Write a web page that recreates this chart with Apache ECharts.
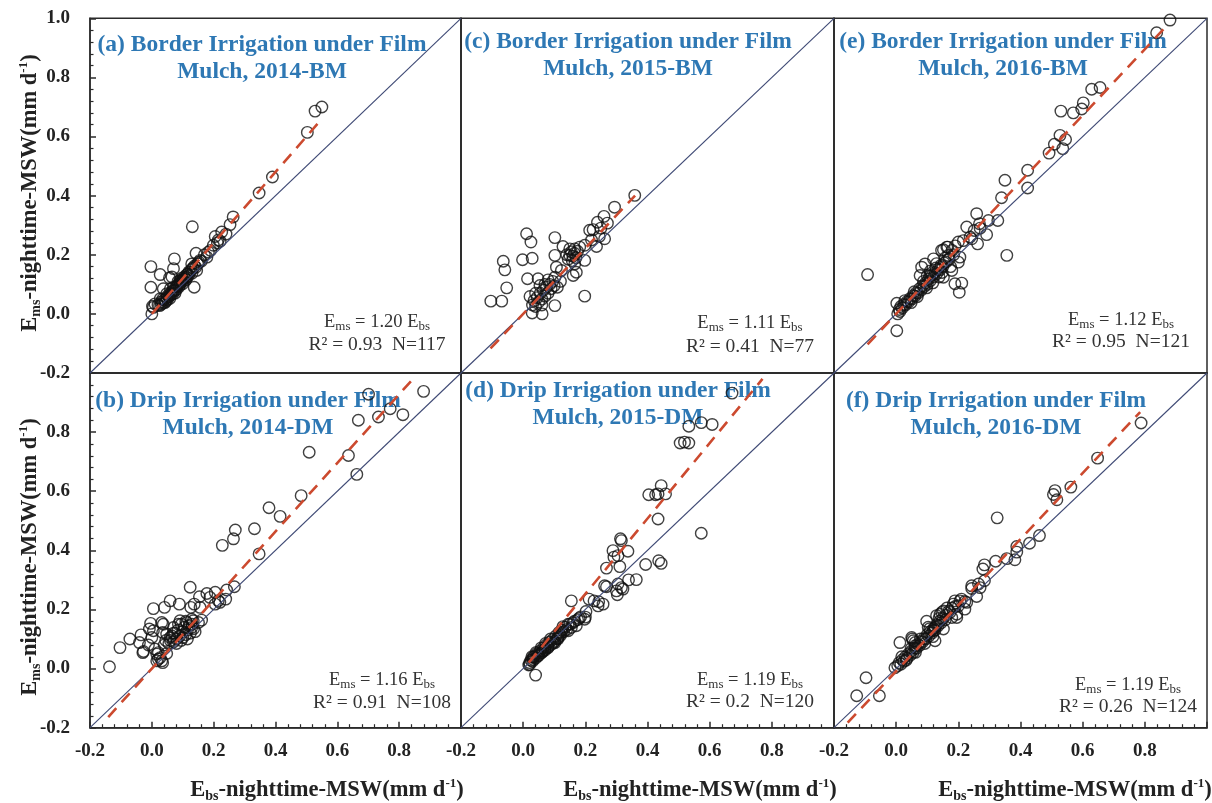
<!DOCTYPE html>
<html><head><meta charset="utf-8">
<script src="https://cdn.jsdelivr.net/npm/echarts@6/dist/echarts.min.js"></script>
<style>html,body{margin:0;padding:0;background:#fff}#c{width:1212px;height:803px}</style>
</head><body><div id="c"></div><script>
// ---------- DATA ----------
const axisTicks = [-0.2, 0.0, 0.2, 0.4, 0.6, 0.8, 1.0];
const panelLetters = ['(a)', '(c)', '(e)', '(b)', '(d)', '(f)'];
const panelTypes = ['Border', 'Border', 'Border', 'Drip', 'Drip', 'Drip'];
const panelYears = ['2014-BM', '2015-BM', '2016-BM', '2014-DM', '2015-DM', '2016-DM'];
const slopes = ['1.20', '1.11', '1.12', '1.16', '1.19', '1.19'];
const r2s = ['0.93', '0.41', '0.95', '0.91', '0.2', '0.26'];
const ns = ['117', '77', '121', '108', '120', '124'];

const pts2014BM = [[0.550,0.700],[0.528,0.686],[0.503,0.614],[0.390,0.463],[0.347,0.409],[0.263,0.328],[0.253,0.302],[0.131,0.295],[0.226,0.277],[0.205,0.262],[0.221,0.246],[0.199,0.232],[0.212,0.240],[0.183,0.209],[0.143,0.205],[0.178,0.192],[0.073,0.186],[0.156,0.181],[0.129,0.169],[0.070,0.153],[-0.003,0.160],[0.027,0.133],[0.057,0.122],[0.065,0.125],[0.145,0.147],[0.113,0.124],[0.091,0.113],[-0.003,0.090],[0.037,0.085],[0.137,0.090],[0.070,0.090],[0.048,0.068],[0.027,0.051],[0.010,0.034],[0.005,0.022],[0.000,0.000],[0.002,0.026],[0.190,0.215],[0.170,0.200],[0.160,0.178],[0.240,0.270],[0.215,0.250],
[0.020,0.030],[0.025,0.028],[0.030,0.040],[0.035,0.036],[0.040,0.047],[0.045,0.042],[0.048,0.055],[0.052,0.062],[0.055,0.058],[0.060,0.070],[0.062,0.064],[0.066,0.076],[0.070,0.080],[0.074,0.078],[0.078,0.090],[0.082,0.094],[0.085,0.100],[0.088,0.092],[0.092,0.105],[0.095,0.112],[0.098,0.108],[0.102,0.118],[0.105,0.125],[0.108,0.120],[0.112,0.132],[0.116,0.135],[0.120,0.142],[0.124,0.140],[0.128,0.150],[0.133,0.155],[0.138,0.162],[0.142,0.158],[0.148,0.170],[0.152,0.175],[0.035,0.050],[0.042,0.038],[0.058,0.052],[0.068,0.068],[0.080,0.083],[0.090,0.098],[0.100,0.102],[0.110,0.115],[0.118,0.128],[0.130,0.138],[0.030,0.032],[0.050,0.048],[0.075,0.070],[0.096,0.120],[0.060,0.085],[0.085,0.110]];

const pts2015BM = [[0.359,0.401],[0.294,0.361],[0.260,0.330],[0.271,0.307],[0.239,0.310],[0.225,0.285],[0.214,0.283],[0.262,0.254],[0.236,0.228],[0.011,0.271],[0.025,0.243],[0.102,0.258],[0.128,0.228],[0.150,0.220],[0.166,0.220],[0.182,0.226],[0.198,0.232],[-0.064,0.178],[-0.059,0.149],[-0.002,0.183],[0.029,0.188],[0.102,0.198],[0.150,0.198],[0.198,0.181],[0.171,0.141],[-0.053,0.088],[-0.104,0.043],[-0.069,0.043],[0.014,0.119],[0.048,0.119],[0.054,0.096],[0.198,0.060],[0.102,0.028],[0.061,0.000],[0.029,0.003],[0.022,0.059],[0.102,0.124],[0.123,0.147],[0.107,0.158],[0.166,0.169],[0.161,0.130],[0.250,0.290],[0.245,0.262],[0.220,0.250],
[0.140,0.200],[0.145,0.185],[0.155,0.210],[0.160,0.195],[0.165,0.205],[0.170,0.190],[0.175,0.212],[0.158,0.180],
[0.030,0.030],[0.035,0.045],[0.040,0.025],[0.045,0.055],[0.050,0.040],[0.055,0.070],[0.060,0.050],[0.065,0.080],[0.070,0.060],[0.075,0.090],[0.080,0.070],[0.085,0.100],[0.090,0.085],[0.095,0.110],[0.100,0.095],[0.070,0.100],[0.080,0.115],[0.040,0.070],[0.060,0.030],[0.110,0.090],[0.120,0.110]];

const pts2016BM = [[0.881,0.994],[0.838,0.951],[0.656,0.766],[0.629,0.760],[0.602,0.714],[0.597,0.693],[0.570,0.680],[0.530,0.686],[0.527,0.604],[0.545,0.590],[0.509,0.574],[0.536,0.559],[0.492,0.544],[0.423,0.486],[0.423,0.426],[0.350,0.452],[0.339,0.393],[0.259,0.339],[0.327,0.316],[0.297,0.316],[0.268,0.305],[0.227,0.294],[0.291,0.268],[0.251,0.282],[0.262,0.237],[0.243,0.254],[0.200,0.243],[0.356,0.198],[-0.092,0.133],[0.189,0.102],[0.211,0.104],[0.203,0.073],[0.166,0.226],[0.152,0.217],[0.120,0.186],[0.093,0.169],[0.082,0.158],[0.077,0.130],[0.200,0.175],[0.179,0.147],[0.002,0.036],[0.005,0.000],[0.002,-0.057],[0.238,0.260],[0.216,0.248],[0.205,0.192],[0.163,0.226],[0.146,0.215],[0.168,0.198],[0.152,0.124],[0.270,0.290],[0.180,0.215],[0.190,0.230],
[0.010,0.015],[0.015,0.025],[0.020,0.020],[0.025,0.032],[0.030,0.030],[0.035,0.042],[0.040,0.040],[0.045,0.052],[0.050,0.050],[0.055,0.062],[0.060,0.060],[0.065,0.072],[0.070,0.070],[0.075,0.085],[0.080,0.080],[0.085,0.095],[0.090,0.092],[0.095,0.105],[0.100,0.100],[0.105,0.118],[0.110,0.112],[0.115,0.130],[0.120,0.125],[0.125,0.140],[0.130,0.135],[0.135,0.150],[0.140,0.148],[0.145,0.165],[0.150,0.160],[0.155,0.172],[0.160,0.175],[0.012,0.008],[0.028,0.045],[0.048,0.038],[0.058,0.075],[0.068,0.058],[0.088,0.110],[0.098,0.088],[0.108,0.128],[0.118,0.105],[0.128,0.155],[0.138,0.125],[0.148,0.140],[0.158,0.190],[0.170,0.185],[0.130,0.170],[0.110,0.145],[0.100,0.130],[0.175,0.160],[0.185,0.200]];

const pts2014DM = [[0.879,0.938],[0.701,0.928],[0.771,0.879],[0.733,0.851],[0.812,0.859],[0.668,0.840],[0.509,0.732],[0.636,0.721],[0.663,0.657],[0.483,0.585],[0.379,0.544],[0.415,0.515],[0.332,0.473],[0.270,0.469],[0.264,0.439],[0.228,0.417],[0.347,0.388],[0.267,0.277],[0.242,0.266],[0.239,0.235],[0.124,0.275],[0.205,0.258],[0.178,0.254],[0.188,0.241],[0.215,0.230],[0.154,0.243],[0.156,0.207],[0.137,0.218],[0.126,0.207],[0.059,0.229],[0.041,0.207],[0.005,0.203],[0.089,0.218],[0.161,0.164],[0.129,0.167],[0.113,0.156],[0.129,0.139],[0.091,0.162],[0.086,0.150],[0.070,0.139],[0.037,0.150],[0.035,0.122],[0.048,0.117],[-0.004,0.153],[-0.008,0.134],[0.005,0.128],[-0.035,0.114],[-0.071,0.100],[-0.103,0.071],[-0.040,0.088],[-0.029,0.054],[-0.011,0.080],[0.000,0.105],[0.010,0.066],[0.016,0.049],[0.016,0.026],[0.027,0.037],[0.035,0.020],[0.048,0.051],[-0.137,0.006],[-0.027,0.058],[0.032,0.156],[0.059,0.105],[0.134,0.162],[0.151,0.156],[0.220,0.224],[0.205,0.218],[0.021,0.054],[0.021,0.032],[0.032,0.026],
[0.055,0.085],[0.060,0.095],[0.065,0.110],[0.070,0.090],[0.075,0.120],[0.080,0.100],[0.085,0.130],[0.090,0.110],[0.095,0.095],[0.100,0.125],[0.105,0.140],[0.110,0.115],[0.115,0.130],[0.120,0.145],[0.125,0.120],[0.130,0.150],[0.135,0.135],[0.140,0.125],[0.070,0.120],[0.080,0.085],[0.100,0.105],[0.115,0.100],[0.045,0.095],[0.040,0.080],[0.095,0.150],[0.110,0.160]];

const pts2015DM = [[0.672,0.932],[0.533,0.820],[0.573,0.832],[0.608,0.826],[0.505,0.763],[0.519,0.766],[0.533,0.763],[0.444,0.619],[0.404,0.588],[0.426,0.588],[0.434,0.591],[0.458,0.591],[0.434,0.506],[0.573,0.458],[0.313,0.439],[0.316,0.433],[0.289,0.399],[0.337,0.397],[0.305,0.382],[0.292,0.377],[0.311,0.345],[0.268,0.340],[0.394,0.352],[0.436,0.365],[0.444,0.356],[0.364,0.301],[0.339,0.300],[0.262,0.280],[0.268,0.277],[0.300,0.263],[0.321,0.269],[0.303,0.250],[0.305,0.286],[0.316,0.274],[0.155,0.229],[0.212,0.235],[0.228,0.229],[0.243,0.226],[0.257,0.218],[0.241,0.212],[0.202,0.193],[0.198,0.167],[0.200,0.174],[0.171,0.145],[0.155,0.139],[0.145,0.128],[0.123,0.122],[0.112,0.105],[0.096,0.086],[0.080,0.071],[0.064,0.060],[0.048,0.049],[0.032,0.038],[0.021,0.014],[0.040,-0.022],[0.018,0.012],[0.118,0.116],[0.112,0.100],[0.102,0.088],[0.080,0.077],[0.070,0.066],[0.059,0.054],[0.048,0.043],[0.032,0.031],[0.021,0.020],
[0.025,0.028],[0.030,0.025],[0.035,0.040],[0.040,0.035],[0.045,0.052],[0.050,0.045],[0.055,0.060],[0.060,0.055],[0.065,0.070],[0.070,0.062],[0.075,0.080],[0.080,0.072],[0.085,0.090],[0.090,0.082],[0.095,0.098],[0.100,0.092],[0.105,0.110],[0.110,0.102],[0.115,0.122],[0.120,0.112],[0.125,0.130],[0.130,0.125],[0.135,0.140],[0.140,0.132],[0.150,0.150],[0.160,0.155],[0.165,0.160],[0.175,0.165],[0.180,0.170],[0.185,0.175],[0.028,0.040],[0.042,0.055],[0.058,0.070],[0.072,0.085],[0.088,0.100],[0.128,0.142],[0.145,0.150]];

const pts2016DM = [[0.788,0.831],[0.648,0.712],[0.562,0.614],[0.511,0.602],[0.506,0.589],[0.517,0.571],[0.325,0.510],[0.461,0.450],[0.429,0.424],[0.388,0.413],[0.388,0.394],[0.382,0.368],[0.356,0.372],[0.320,0.363],[0.284,0.351],[0.279,0.337],[0.284,0.297],[0.265,0.286],[0.243,0.271],[0.259,0.244],[0.221,0.227],[0.205,0.229],[0.184,0.218],[0.195,0.173],[0.147,0.190],[0.130,0.179],[0.152,0.134],[0.125,0.139],[0.098,0.160],[0.012,0.088],[0.052,0.100],[0.061,0.088],[-0.004,0.003],[-0.097,-0.031],[-0.127,-0.092],[-0.054,-0.092],[0.050,0.105],[0.055,0.094],[0.061,0.077],[0.103,0.140],[0.120,0.128],[0.125,0.094],[0.141,0.184],[0.152,0.195],[0.173,0.190],[0.179,0.173],[0.195,0.184],[0.189,0.229],[0.200,0.212],[0.227,0.224],[0.221,0.201],[0.243,0.280],[0.270,0.274],[0.163,0.205],[0.210,0.235],
[0.005,0.010],[0.010,0.020],[0.015,0.015],[0.020,0.030],[0.025,0.025],[0.030,0.040],[0.035,0.035],[0.040,0.050],[0.045,0.045],[0.050,0.060],[0.055,0.055],[0.060,0.070],[0.065,0.068],[0.070,0.082],[0.075,0.078],[0.080,0.092],[0.085,0.090],[0.090,0.102],[0.095,0.100],[0.100,0.115],[0.105,0.110],[0.110,0.125],[0.115,0.120],[0.120,0.135],[0.125,0.130],[0.130,0.148],[0.135,0.145],[0.140,0.160],[0.145,0.155],[0.150,0.170],[0.160,0.180],[0.170,0.195],[0.018,0.040],[0.032,0.028],[0.048,0.068],[0.062,0.055],[0.078,0.100],[0.092,0.085],[0.108,0.135],[0.118,0.108],[0.138,0.170],[0.158,0.165],[0.180,0.205],[0.190,0.210]];

// fitted regression lines (end points)
const fit2014BM = [[0.000, 0.000], [0.546, 0.655]];
const fit2015BM = [[-0.105, -0.117], [0.360, 0.400]];
const fit2016BM = [[-0.092, -0.103], [0.870, 0.974]];
const fit2014DM = [[-0.141, -0.164], [0.850, 0.986]];
const fit2015DM = [[0.018, 0.020], [0.770, 0.980]];
const fit2016DM = [[-0.156, -0.183], [0.785, 0.868]];
const oneToOne = [[-0.2, -0.2], [1.0, 1.0]];

const panelPts = [pts2014BM, pts2015BM, pts2016BM, pts2014DM, pts2015DM, pts2016DM];
const panelFits = [fit2014BM, fit2015BM, fit2016BM, fit2014DM, fit2015DM, fit2016DM];

// ---------- LAYOUT ----------
const colLeft = [90, 461, 834], colW = [371, 373, 373];
const rowTop = [18.3, 373], rowH = 354.7;
const titlePos = [[262, 58.5], [628, 55.5], [1003, 55.5], [248, 414], [618, 404.5], [996, 414]];
const annPos = [[377, 322, 345], [750, 323, 347], [1121, 320, 342], [382, 680, 703], [750, 680, 702], [1128, 685, 707]];
const xNamePos = [327, 700, 1075];
const yNamePos = [193, 557];

const SERIF = 'Liberation Serif';
const dark = '#2b2b2b';
const AMIN = axisTicks[0], AMAX = axisTicks[axisTicks.length - 1];

const grids = [], xAxes = [], yAxes = [], series = [], graphics = [];
const helperY = {}, helperX = {};
for (let i = 0; i < 6; i++) {
  if (Math.floor(i / 3) === 1) helperY[i] = 6 + Object.keys(helperY).length;
}
for (let i = 0; i < 6; i++) {
  if (i % 3 === 0) helperX[i] = 6 + Object.keys(helperX).length;
}

for (let i = 0; i < 6; i++) {
  const r = Math.floor(i / 3), c = i % 3;
  grids.push({ left: colLeft[c], top: rowTop[r], width: colW[c], height: rowH,
    show: true, borderColor: dark, borderWidth: 1.5 });
  const bottom = r === 1, left = c === 0;
  const xLine = bottom ? { show: true, onZero: true, onZeroAxisIndex: helperY[i], lineStyle: { color: dark, width: 1.5 } }
                       : { show: true, onZero: false, lineStyle: { color: dark, width: 1.5 } };
  const yLine = left ? { show: true, onZero: true, onZeroAxisIndex: helperX[i], lineStyle: { color: dark, width: 1.5 } }
                     : { show: true, onZero: false, lineStyle: { color: dark, width: 1.5 } };
  xAxes.push({ type: 'value', gridIndex: i, min: AMIN, max: AMAX, interval: 0.2,
    axisLine: xLine, splitLine: { show: true, lineStyle: { color: 'rgba(0,0,0,0)' } },
    axisTick: { show: bottom, inside: true, length: 6, lineStyle: { color: dark, width: 1.5 } },
    minorTick: { show: bottom, splitNumber: 5, length: 3.5, lineStyle: { color: dark, width: 1.2 } },
    axisLabel: { show: bottom, margin: 14,
      fontFamily: SERIF, fontWeight: 'bold', fontSize: 19, color: '#222',
      formatter: v => (v >= AMAX - 1e-6 ? '' : v.toFixed(1)) } });
  yAxes.push({ type: 'value', gridIndex: i, min: AMIN, max: AMAX, interval: 0.2,
    axisLine: yLine, splitLine: { show: true, lineStyle: { color: 'rgba(0,0,0,0)' } },
    axisTick: { show: left, inside: true, length: 6, lineStyle: { color: dark, width: 1.5 } },
    minorTick: { show: left, splitNumber: 5, length: 3.5, lineStyle: { color: dark, width: 1.2 } },
    axisLabel: { show: left, margin: 20,
      fontFamily: SERIF, fontWeight: 'bold', fontSize: 19, color: '#222',
      formatter: v => ((r === 1 && v >= AMAX - 1e-6) ? '' : v.toFixed(1)) } });
  series.push({ type: 'scatter', xAxisIndex: i, yAxisIndex: i, data: panelPts[i], symbol: 'circle', symbolSize: 11.5,
    itemStyle: { color: 'rgba(0,0,0,0)', borderColor: '#111', borderWidth: 1.4 }, z: 2, silent: true });
  series.push({ type: 'line', xAxisIndex: i, yAxisIndex: i, data: oneToOne, symbol: 'none',
    lineStyle: { color: '#3f4a75', width: 1.1 }, z: 3, silent: true });
  series.push({ type: 'line', xAxisIndex: i, yAxisIndex: i, data: panelFits[i], symbol: 'none',
    lineStyle: { color: '#cc4a2f', width: 2.6, type: [12, 8] }, z: 4, silent: true });

  graphics.push({ type: 'text', x: titlePos[i][0], y: titlePos[i][1], z: 1,
    style: { text: panelLetters[i] + ' ' + panelTypes[i] + ' Irrigation under Film\nMulch, ' + panelYears[i],
      fill: '#2e78b4', font: 'bold 23.5px ' + SERIF, lineHeight: 27, align: 'center', verticalAlign: 'middle' } });
  graphics.push({ type: 'text', x: annPos[i][0], y: annPos[i][1], z: 1,
    style: { text: 'E{sub|ms} = ' + slopes[i] + ' E{sub|bs}', fill: '#333', font: '18.5px ' + SERIF,
      align: 'center', verticalAlign: 'middle', lineHeight: 22,
      rich: { sub: { fontSize: 13, fontFamily: SERIF, fill: '#333', verticalAlign: 'bottom', lineHeight: 13 } } } });
  graphics.push({ type: 'text', x: annPos[i][0], y: annPos[i][2], z: 1,
    style: { text: 'R\u00b2 = ' + r2s[i] + '  N=' + ns[i], fill: '#333', font: '19.5px ' + SERIF,
      align: 'center', verticalAlign: 'middle' } });
}
for (let i = 0; i < 6; i++) {
  if (helperY[i] !== undefined) yAxes.push({ type: 'value', gridIndex: i, min: 0, max: 1, show: false, axisLine: { onZero: false } });
}
for (let i = 0; i < 6; i++) {
  if (helperX[i] !== undefined) xAxes.push({ type: 'value', gridIndex: i, min: 0, max: 1, show: false, axisLine: { onZero: false } });
}

const nameRich = {
  sub: { fontSize: 14, fontWeight: 'bold', fontFamily: SERIF, fill: '#222', verticalAlign: 'bottom', lineHeight: 14 },
  sup: { fontSize: 13, fontWeight: 'bold', fontFamily: SERIF, fill: '#222', verticalAlign: 'top', lineHeight: 13 }
};
for (let c = 0; c < 3; c++) {
  graphics.push({ type: 'text', x: xNamePos[c], y: 790,
    style: { text: 'E{sub|bs}-nighttime-MSW(mm d{sup|-1})', fill: '#222', font: 'bold 22.5px ' + SERIF,
      lineHeight: 26, align: 'center', verticalAlign: 'middle', rich: nameRich } });
}
for (let r = 0; r < 2; r++) {
  graphics.push({ type: 'text', x: 30, y: yNamePos[r], rotation: Math.PI / 2,
    style: { text: 'E{sub|ms}-nighttime-MSW(mm d{sup|-1})', fill: '#222', font: 'bold 22.5px ' + SERIF,
      lineHeight: 26, align: 'center', verticalAlign: 'middle', rich: nameRich } });
}

const chart = echarts.init(document.getElementById('c'));
chart.setOption({ animation: false, grid: grids, xAxis: xAxes, yAxis: yAxes,
  series: series, graphic: { elements: graphics } });
</script></body></html>
